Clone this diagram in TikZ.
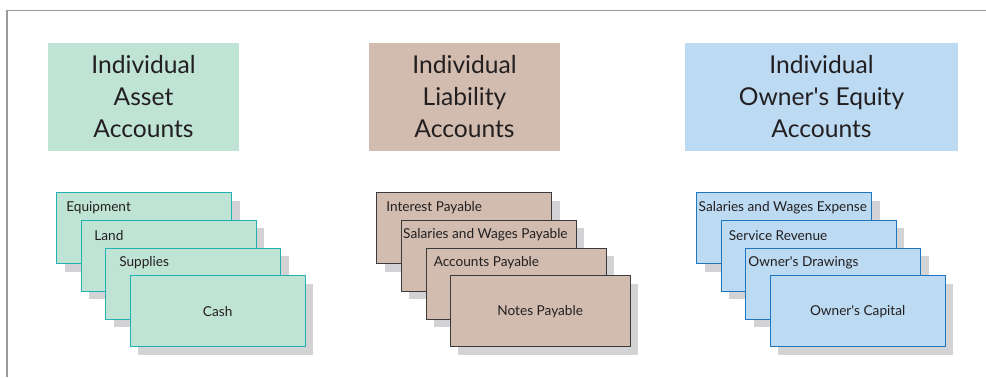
\documentclass[tikz,border=0pt]{standalone}
\usepackage{fontspec}
\setmainfont{Lato}
\usepackage{tikz}
\usetikzlibrary{shadows}

\definecolor{framegray}{HTML}{9A9A9A}
\definecolor{shadowgray}{HTML}{D3D3D6}
\definecolor{inkgray}{HTML}{231F20}
\definecolor{assetfill}{HTML}{BFE3D4}
\definecolor{assetline}{HTML}{22B0B0}
\definecolor{liabfill}{HTML}{D1BCAF}
\definecolor{liabline}{HTML}{3A3A3A}
\definecolor{equityfill}{HTML}{BCDAF2}
\definecolor{equityline}{HTML}{1F76BE}

\tikzset{
  header/.style={inner sep=0pt, align=center, text=inkgray,
    minimum height=2.7cm, font=\fontsize{17.5}{22.75}\selectfont},
  card/.style={anchor=north west, line width=0.9pt, inner sep=0pt,
    minimum width=4.375cm, minimum height=1.775cm, text=inkgray,
    font=\fontsize{9.7}{12}\selectfont,
    drop shadow={shadow xshift=0.2cm, shadow yshift=-0.2cm,
      fill=shadowgray, opacity=1}},
  assetcard/.style={card, draw=assetline, fill=assetfill},
  liabcard/.style={card, draw=liabline, fill=liabfill},
  equitycard/.style={card, draw=equityline, fill=equityfill},
  cardlabel/.style={anchor=west, inner sep=0pt, text=inkgray,
    font=\fontsize{9.7}{12}\selectfont}
}

\begin{document}
\begin{tikzpicture}[x=0.025cm, y=-0.025cm]
    \useasboundingbox (0,0) rectangle (986,377);

    % Frame lines
    \coordinate (fcorner) at (7,10.5);
    \coordinate (fright) at (986,10.5);
    \coordinate (fbottom) at (7,377);
    \draw[framegray, line width=1.4pt] (fbottom) -- (fcorner) -- (fright);

    % Headers
    \node[header, fill=assetfill, minimum width=4.775cm] (asset) at (143.5,97)
        {Individual\\Asset\\Accounts};
    \node[header, fill=liabfill, minimum width=4.775cm] (liab) at (464.5,97)
        {Individual\\Liability\\Accounts};
    \node[header, fill=equityfill, minimum width=6.825cm] (equity) at (821.5,97)
        {Individual\\Owner\textquotesingle s Equity\\Accounts};

    % Asset cards
    \node[assetcard] (equip) at (56,192) {};
    \node[cardlabel] (equiplbl) at ([xshift=0.25cm, yshift=-0.39cm]equip.north west) {Equipment};
    \node[assetcard] (land) at (80.5,219.5) {};
    \node[cardlabel] (landlbl) at ([xshift=0.34cm, yshift=-0.39cm]land.north west) {Land};
    \node[assetcard] (supp) at (105,247.5) {};
    \node[cardlabel] (supplbl) at ([xshift=0.35cm, yshift=-0.39cm]supp.north west) {Supplies};
    \node[assetcard] (cash) at (129.5,275) {Cash};

    % Liability cards
    \node[liabcard] (intpay) at (376,192) {};
    \node[cardlabel] (intpaylbl) at ([xshift=0.25cm, yshift=-0.39cm]intpay.north west) {Interest Payable};
    \node[liabcard] (salpay) at (400.5,219.5) {};
    \node[cardlabel] (salpaylbl) at ([xshift=0.06cm, yshift=-0.39cm]salpay.north west) {Salaries and Wages Payable};
    \node[liabcard, minimum width=4.5cm] (accpay) at (425.5,247.5) {};
    \node[cardlabel] (accpaylbl) at ([xshift=0.2cm, yshift=-0.39cm]accpay.north west) {Accounts Payable};
    \node[liabcard, minimum width=4.5cm] (notepay) at (449.5,275) {Notes Payable};

    % Owner's equity cards
    \node[equitycard] (salexp) at (696,192) {};
    \node[cardlabel] (salexplbl) at ([xshift=0.06cm, yshift=-0.39cm]salexp.north west) {Salaries and Wages Expense};
    \node[equitycard] (servrev) at (720.5,219.5) {};
    \node[cardlabel] (servrevlbl) at ([xshift=0.2cm, yshift=-0.39cm]servrev.north west) {Service Revenue};
    \node[equitycard] (draw) at (745,247.5) {};
    \node[cardlabel] (drawlbl) at ([xshift=0.08cm, yshift=-0.39cm]draw.north west) {Owner\textquotesingle s Drawings};
    \node[equitycard] (capital) at (769.5,275) {Owner\textquotesingle s Capital};
\end{tikzpicture}
\end{document}
